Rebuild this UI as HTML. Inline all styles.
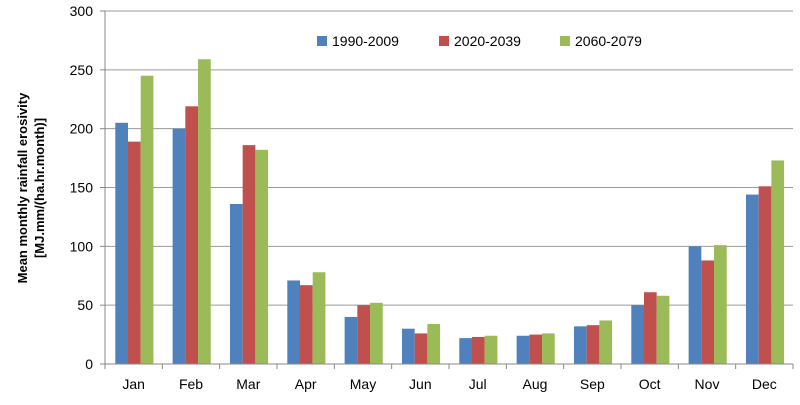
<!DOCTYPE html>
<html><head><meta charset="utf-8"><style>
body{margin:0;background:#fff;font-family:"Liberation Sans",sans-serif}
svg text{font-family:"Liberation Sans",sans-serif}
</style></head><body>
<svg width="800" height="400">
<g id="grid"></g><g id="bars"></g><g id="axes"></g>
<g font-size="13" font-weight="bold" fill="#000" text-anchor="middle">
<text transform="translate(27,188) rotate(-90)">Mean monthly rainfall erosivity</text>
<text transform="translate(44,188) rotate(-90)">[MJ.mm/(ha.hr.month)]</text>
</g>
<g font-size="14" fill="#000">
<rect x="317" y="36" width="10" height="10" fill="#4F81BD"/>
<text x="332" y="46">1990-2009</text>
<rect x="439" y="36" width="10" height="10" fill="#C0504D"/>
<text x="454" y="46">2020-2039</text>
<rect x="560" y="36" width="10" height="10" fill="#9BBB59"/>
<text x="575" y="46">2060-2079</text>
</g>
</svg>
<script>
const categories=["Jan","Feb","Mar","Apr","May","Jun","Jul","Aug","Sep","Oct","Nov","Dec"];
const s1990=[205,200,136,71,40,30,22,24,32,50,100,144];
const s2020=[189,219,186,67,50,26,23,25,33,61,88,151];
const s2060=[245,259,182,78,52,34,24,26,37,58,101,173];
const yTicks=[0,50,100,150,200,250,300];
const seriesNames=["1990-2009","2020-2039","2060-2079"];
const colors=["#4F81BD","#C0504D","#9BBB59"];
const NS="http://www.w3.org/2000/svg";
const L=105,R=793,T=11,B=364,YMAX=300;
const cw=(R-L)/categories.length;
function y(v){return B-(v/YMAX)*(B-T);}
function x(i){return L+i*cw;}
function mk(t,a,p){const e=document.createElementNS(NS,t);for(const k in a)e.setAttribute(k,a[k]);p.appendChild(e);return e;}
const grid=document.getElementById('grid'),bars=document.getElementById('bars'),axes=document.getElementById('axes');
yTicks.forEach(v=>{
 if(v>0){const g=mk('line',{x1:L,x2:R,y1:y(v),y2:y(v),stroke:'#9a9a9a','stroke-width':1},grid);
 
 }
 const t=mk('text',{x:L-12,y:y(v)+5,'text-anchor':'end','font-size':14,fill:'#000'},axes);
 t.textContent=v;
 
 
});
const series=[s1990,s2020,s2060];
const bw=12.7,off=10.3;
series.forEach((s,si)=>{s.forEach((v,i)=>{
 const r=mk('rect',{x:x(i)+off+si*bw,y:y(v),width:bw,height:B-y(v),fill:colors[si]},bars);
 
 
});});
const ya=mk('line',{x1:L,x2:L,y1:T,y2:B,stroke:'#888'},axes);


const xa=mk('line',{x1:L,x2:R,y1:B,y2:B,stroke:'#888'},axes);


yTicks.forEach(v=>{mk('line',{x1:L-5,x2:L,y1:y(v),y2:y(v),stroke:'#888'},axes);});
for(let i=0;i<=categories.length;i++){mk('line',{x1:x(i),x2:x(i),y1:B,y2:B+5,stroke:'#888'},axes);}
categories.forEach((c,i)=>{
 const t=mk('text',{x:x(i)+cw/2,y:B+25,'text-anchor':'middle','font-size':14,fill:'#000'},axes);
 t.textContent=c;
 
 
});
</script>
</body></html>
